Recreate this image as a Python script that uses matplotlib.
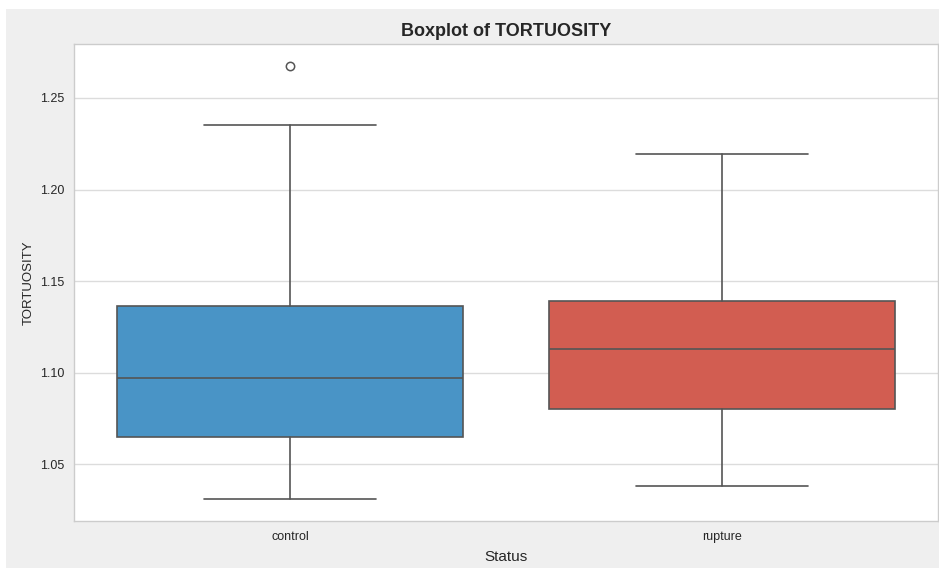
import matplotlib
matplotlib.use("Agg")
import matplotlib.pyplot as plt
from matplotlib.patches import Rectangle
import seaborn as sns

groups = ["control", "rupture"]
colors = ["#3498db", "#e74c3c"]
whislo = [1.0309, 1.0380]
q1 = [1.0648, 1.0801]
med = [1.0970, 1.1128]
q3 = [1.1363, 1.1391]
whishi = [1.2352, 1.2194]
fliers = [[1.2675], []]
yticks = [1.05, 1.10, 1.15, 1.20, 1.25]

sns.set_style("whitegrid")
plt.rcParams['font.family'] = ['Liberation Sans', 'DejaVu Sans']

fig = plt.figure(figsize=(9.39, 5.68), dpi=100, facecolor="white")
# gray figure area (the picture is a crop with a thin white margin)
fig.patches.append(Rectangle((6 / 939, 0), 1, 1 - 9 / 568, transform=fig.transFigure,
                             facecolor="#efefef", edgecolor="none", zorder=-10))
ax = fig.add_axes([74 / 939, 1 - 521 / 568, 864 / 939, 477 / 568])
ax.set_facecolor("white")

stats = []
for i, g in enumerate(groups):
    stats.append(dict(label=g, whislo=whislo[i], q1=q1[i], med=med[i],
                      q3=q3[i], whishi=whishi[i], fliers=fliers[i]))

line = "#555555"
fills = [sns.desaturate(c, 0.75) for c in colors]
bp = ax.bxp(stats, positions=range(len(groups)), widths=0.8, patch_artist=True,
            boxprops=dict(edgecolor=line, linewidth=1.2),
            medianprops=dict(color=line, linewidth=1.2),
            whiskerprops=dict(color=line, linewidth=1.2),
            capprops=dict(color=line, linewidth=1.2),
            flierprops=dict(marker="o", markerfacecolor="none", markeredgecolor=line,
                            markersize=6, markeredgewidth=1.1))
for patch, c in zip(bp["boxes"], fills):
    patch.set_facecolor(c)
for cap in bp["caps"]:
    x0, x1 = cap.get_xdata()
    mid = (x0 + x1) / 2
    cap.set_xdata([mid - 0.2, mid + 0.2])

ax.set_xlim(-0.5, 1.5)
ax.set_ylim(1.0189, 1.2795)
ax.set_yticks(yticks)
ax.set_yticklabels([f"{t:.2f}" for t in yticks])
ax.set_xticks(range(len(groups)))
ax.set_xticklabels(groups)
ax.xaxis.grid(False)
ax.yaxis.grid(True, color="#dcdcdc", linewidth=1)
for s in ax.spines.values():
    s.set_color("#cccccc")
    s.set_linewidth(1)
ax.tick_params(axis="both", labelsize=9, colors="#262626", length=0, pad=7)

ax.set_title("Boxplot of TORTUOSITY", fontsize=13, fontweight="bold", color="#262626", pad=6)
ax.set_xlabel("Status", fontsize=11, color="#262626", labelpad=5)
ax.set_ylabel("TORTUOSITY", fontsize=9.5, color="#262626", labelpad=4)

fig.savefig("out.png", dpi=100, facecolor=fig.get_facecolor())
